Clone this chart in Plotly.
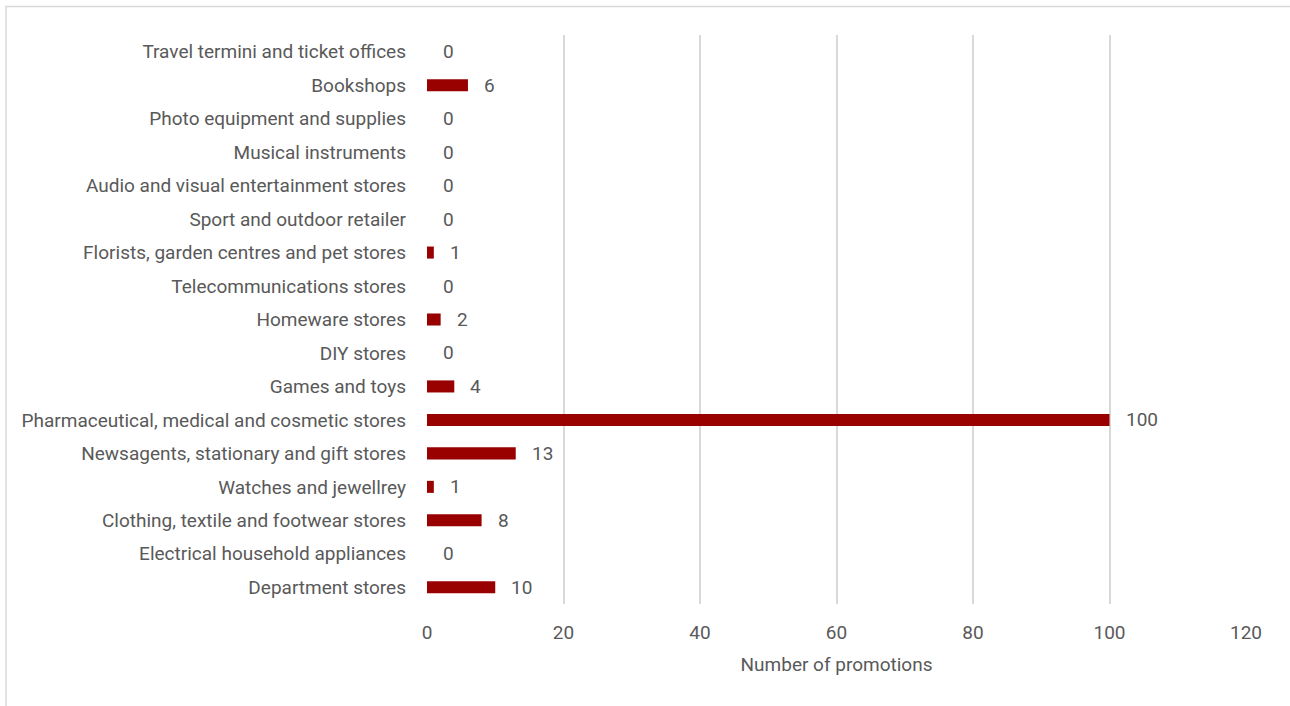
import plotly.graph_objects as go

# Store categories, listed bottom to top
categories = [
    "Department stores",
    "Electrical household appliances",
    "Clothing, textile and footwear stores",
    "Watches and jewellrey",
    "Newsagents, stationary and gift stores",
    "Pharmaceutical, medical and cosmetic stores",
    "Games and toys",
    "DIY stores",
    "Homeware stores",
    "Telecommunications stores",
    "Florists, garden centres and pet stores",
    "Sport and outdoor retailer",
    "Audio and visual entertainment stores",
    "Musical instruments",
    "Photo equipment and supplies",
    "Bookshops",
    "Travel termini and ticket offices",
]
promotions = [10, 0, 8, 1, 13, 100, 4, 0, 2, 0, 1, 0, 0, 0, 0, 6, 0]
x_ticks = [0, 20, 40, 60, 80, 100, 120]

TEXT = "#595959"
GRID = "#d9d9d9"
BAR = "#990000"
FONT = "Roboto"
SIZE = 19

fig = go.Figure(
    go.Bar(
        x=promotions,
        y=categories,
        orientation="h",
        width=0.36,
        marker=dict(color=BAR, line=dict(width=0)),
        hoverinfo="x+y",
    )
)

# Value labels placed just right of each bar end
for cat, val in zip(categories, promotions):
    fig.add_annotation(
        x=val, y=cat, text=str(val), showarrow=False,
        xanchor="left", yanchor="middle", xshift=14,
        font=dict(family=FONT, size=SIZE, color=TEXT),
    )

# Chart frame
fig.add_shape(
    type="rect", xref="paper", yref="paper",
    x0=-0.514, x1=1.2, y0=-0.4, y1=1.05,
    line=dict(color=GRID, width=1.5), fillcolor="rgba(0,0,0,0)", layer="below",
)

fig.update_layout(
    width=1290, height=706,
    margin=dict(l=427, r=44, t=35, b=102),
    paper_bgcolor="white", plot_bgcolor="white",
    showlegend=False,
    font=dict(family=FONT, size=SIZE, color=TEXT),
    xaxis=dict(
        range=[0, 120], tickvals=x_ticks, ticktext=[str(v) for v in x_ticks],
        showgrid=True, gridcolor=GRID, gridwidth=1.5,
        zeroline=False, showline=False, ticks="",
        ticklabelstandoff=15,
        title=dict(text="Number of promotions", font=dict(family=FONT, size=SIZE, color=TEXT), standoff=14),
        tickfont=dict(family=FONT, size=SIZE, color=TEXT),
        fixedrange=True,
    ),
    yaxis=dict(
        categoryorder="array", categoryarray=categories,
        showgrid=False, zeroline=False, showline=False, ticks="",
        ticklabelstandoff=20,
        tickfont=dict(family=FONT, size=SIZE, color=TEXT),
        fixedrange=True,
    ),
)

fig.write_html("out.html")
